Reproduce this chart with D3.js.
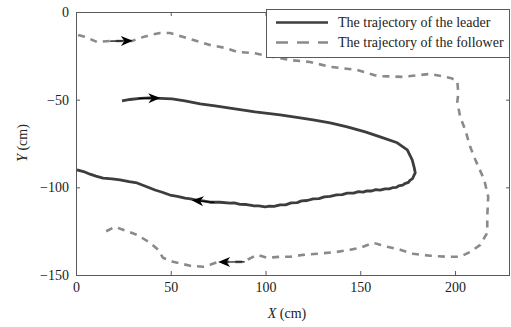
<!DOCTYPE html>
<html><head><meta charset="utf-8">
<script src="https://cdn.jsdelivr.net/npm/d3@7/dist/d3.min.js"></script>
<style>
html,body{margin:0;padding:0;background:#fff;}
svg{display:block;}
text{font-family:"Liberation Serif","Times New Roman",serif;}
</style></head>
<body>
<svg id="chart" width="511" height="327"></svg>
<script>
// ---- data ----
const xTicks = [0, 50, 100, 150, 200];
const yTicks = [0, -50, -100, -150];
const seriesNames = ["The trajectory of the leader", "The trajectory of the follower"];

const leaderX = [24.3,28.5,33.8,39.1,44.4,50.7,57.5,65.5,73.4,83.9,94.5,107.7,118.3,125.1,134.1,143.1,152.6,160.5,169.5,174.8,177.4,178.5,179.0,
  178.2,177.6,176.2,175.4,173.5,172.4,170.2,169.1,167.0,165.3,163.0,160.5,158.2,156.0,153.4,151.5,149.0,146.5,143.1,140.5,137.5,134.1,131.0,128.2,125.1,122.0,119.0,116.7,113.5,110.6,107.7,104.5,101.5,99.8,96.5,93.5,90.0,86.6,83.5,81.3,76.0,70.7,67.0,63.9,60.5,57.5,53.5,49.6,45.5,41.7,37.0,32.2,28.0,23.2,19.0,14.3,10.5,7.4,4.0,0.5];
const leaderY = [-50.7,-49.9,-49.3,-49.0,-49.3,-49.6,-50.7,-52.4,-53.6,-55.3,-57.0,-58.7,-60.4,-61.5,-63.2,-65.5,-68.4,-71.2,-74.6,-78.6,-84.3,-88.9,-91.7,
  -93.5,-95.0,-96.0,-97.2,-97.9,-98.8,-99.2,-100.0,-100.2,-100.9,-100.9,-101.6,-101.3,-102.1,-102.0,-102.7,-102.5,-103.3,-103.3,-104.2,-104.3,-105.2,-105.4,-106.4,-106.6,-107.5,-107.7,-108.7,-108.9,-110.0,-110.0,-110.9,-110.8,-111.1,-110.6,-110.5,-109.8,-109.7,-108.9,-109.0,-108.5,-108.5,-107.7,-107.4,-106.6,-106.2,-105.1,-104.4,-102.8,-101.5,-99.5,-97.5,-96.8,-95.8,-95.2,-94.7,-93.6,-92.5,-91.0,-90.0];

const followerX = [1.1,4.8,11.1,18.0,29.6,33.8,39.1,44.4,49.6,54.9,65.5,70.7,78.7,85.0,93.5,98.7,113.0,123.5,134.1,148.4,158.9,172.6,186.9,197.5,201.2,201.7,201.2,202.7,205.4,208.0,210.7,215.4,217.5,217.0,217.0,213.3,208.0,202.7,195.9,186.9,177.9,171.1,164.2,160.5,156.8,149.9,144.7,137.8,127.2,119.9,113.0,107.7,100.8,95.6,88.2,75.0,70.7,67.1,60.2,51.2,45.9,43.3,39.1,32.2,24.8,20.6,14.3];
const followerY = [-13.1,-14.2,-17.1,-16.5,-16.5,-14.8,-13.1,-12.0,-12.0,-13.7,-17.1,-18.8,-20.5,-22.8,-23.4,-24.5,-27.4,-28.5,-31.3,-33.0,-36.5,-37.0,-35.3,-37.6,-39.3,-46.2,-51.3,-59.8,-67.2,-76.9,-84.3,-95.7,-105.4,-116.8,-125.9,-132.8,-136.8,-139.6,-139.6,-139.0,-137.9,-135.6,-133.9,-132.8,-131.6,-134.5,-135.6,-136.8,-137.9,-138.5,-139.6,-139.6,-140.2,-138.5,-142.5,-142.5,-144.2,-145.3,-144.7,-142.5,-140.2,-135.6,-131.6,-127.1,-124.2,-122.5,-125.9];

// direction arrows: [fromX, fromY, toX, toY]
const arrowsData = [
  [18, -16.6, 30, -16.4],
  [33, -49.3, 44.5, -49.1],
  [73, -108.6, 61, -107.3],
  [89, -142.5, 75, -142.6]
];

// ---- layout ----
const svg = d3.select("#chart");
const M = {left: 76, right: 510, top: 12, bottom: 275};
const x = d3.scaleLinear().domain([0, 229]).range([M.left, M.right]);
const y = d3.scaleLinear().domain([0, -150]).range([M.top, M.bottom]);

const frameColor = "#5a5a5a";

// axes (ticks inward)
const fontSize = 14;
const gB = svg.append("g").attr("transform", `translate(0,${M.bottom})`)
  .call(d3.axisBottom(x).tickValues(xTicks).tickSizeInner(-4).tickSizeOuter(0).tickPadding(7).tickFormat(d3.format("d")));
const gT = svg.append("g").attr("transform", `translate(0,${M.top})`)
  .call(d3.axisTop(x).tickValues(xTicks).tickSizeInner(-4).tickSizeOuter(0).tickFormat(""));
const gL = svg.append("g").attr("transform", `translate(${M.left},0)`)
  .call(d3.axisLeft(y).tickValues(yTicks).tickSizeInner(-4).tickSizeOuter(0).tickPadding(7).tickFormat(d => d < 0 ? "\u2212" + Math.abs(d) : d));
const gR = svg.append("g").attr("transform", `translate(${M.right},0)`)
  .call(d3.axisRight(y).tickValues(yTicks).tickSizeInner(-4).tickSizeOuter(0).tickFormat(""));
[gB, gT, gL, gR].forEach(g => {
  g.select(".domain").remove();
  g.selectAll(".tick line").attr("stroke", frameColor);
  g.selectAll("text").attr("font-family", '"Liberation Serif",serif').attr("font-size", fontSize).attr("fill", "#222");
});

svg.append("rect").attr("x", M.left + 0.5).attr("y", M.top + 0.5)
  .attr("width", M.right - M.left - 1).attr("height", M.bottom - M.top)
  .attr("fill", "none").attr("stroke", frameColor).attr("stroke-width", 1);

// axis titles
const xt = svg.append("text").attr("x", 287).attr("y", 318).attr("text-anchor", "middle")
  .attr("font-size", fontSize).attr("fill", "#222");
xt.append("tspan").attr("font-style", "italic").text("X");
xt.append("tspan").text(" (cm)");
const yt = svg.append("text").attr("transform", "translate(27,143) rotate(-90)").attr("text-anchor", "middle")
  .attr("font-size", fontSize).attr("fill", "#222");
yt.append("tspan").attr("font-style", "italic").text("Y");
yt.append("tspan").text(" (cm)");

// lines
const leaderPts = leaderX.map((v, i) => [v, leaderY[i]]);
const followerPts = followerX.map((v, i) => [v, followerY[i]]);
const line = d3.line().x(d => x(d[0])).y(d => y(d[1]));

svg.append("path").attr("d", line(followerPts)).attr("fill", "none")
  .attr("stroke", "#8a8a8a").attr("stroke-width", 2.6).attr("stroke-dasharray", "7,6")
  .attr("stroke-linejoin", "round");
svg.append("path").attr("d", line(leaderPts)).attr("fill", "none")
  .attr("stroke", "#3d3d3d").attr("stroke-width", 2.8).attr("stroke-linejoin", "round");

// arrows
arrowsData.forEach(a => {
  const x1 = x(a[0]), y1 = y(a[1]), x2 = x(a[2]), y2 = y(a[3]);
  const ang = Math.atan2(y2 - y1, x2 - x1) * 180 / Math.PI;
  svg.append("line").attr("x1", x1).attr("y1", y1).attr("x2", x2 - 6 * Math.cos(ang * Math.PI / 180)).attr("y2", y2 - 6 * Math.sin(ang * Math.PI / 180))
    .attr("stroke", "#000").attr("stroke-width", 1.2);
  svg.append("path").attr("d", "M0,0 L-12,-5 L-8.5,0 L-12,5 Z").attr("fill", "#000")
    .attr("transform", `translate(${x2},${y2}) rotate(${ang})`);
});

// legend
const lg = svg.append("g");
lg.append("rect").attr("x", 266.5).attr("y", 9.5).attr("width", 243).attr("height", 48)
  .attr("fill", "#fff").attr("stroke", frameColor).attr("stroke-width", 1);
const legendStyles = [
  {color: "#3d3d3d", dash: null},
  {color: "#8a8a8a", dash: "12,9"}
];
seriesNames.forEach((name, i) => {
  const yy = 22.5 + i * 20;
  const l = lg.append("line").attr("x1", 276).attr("x2", 328).attr("y1", yy).attr("y2", yy)
    .attr("stroke", legendStyles[i].color).attr("stroke-width", 2.6);
  if (legendStyles[i].dash) l.attr("stroke-dasharray", legendStyles[i].dash);
  lg.append("text").attr("x", 338).attr("y", yy + 4.5).attr("font-size", fontSize).attr("fill", "#222").text(name);
});
</script>
</body></html>
